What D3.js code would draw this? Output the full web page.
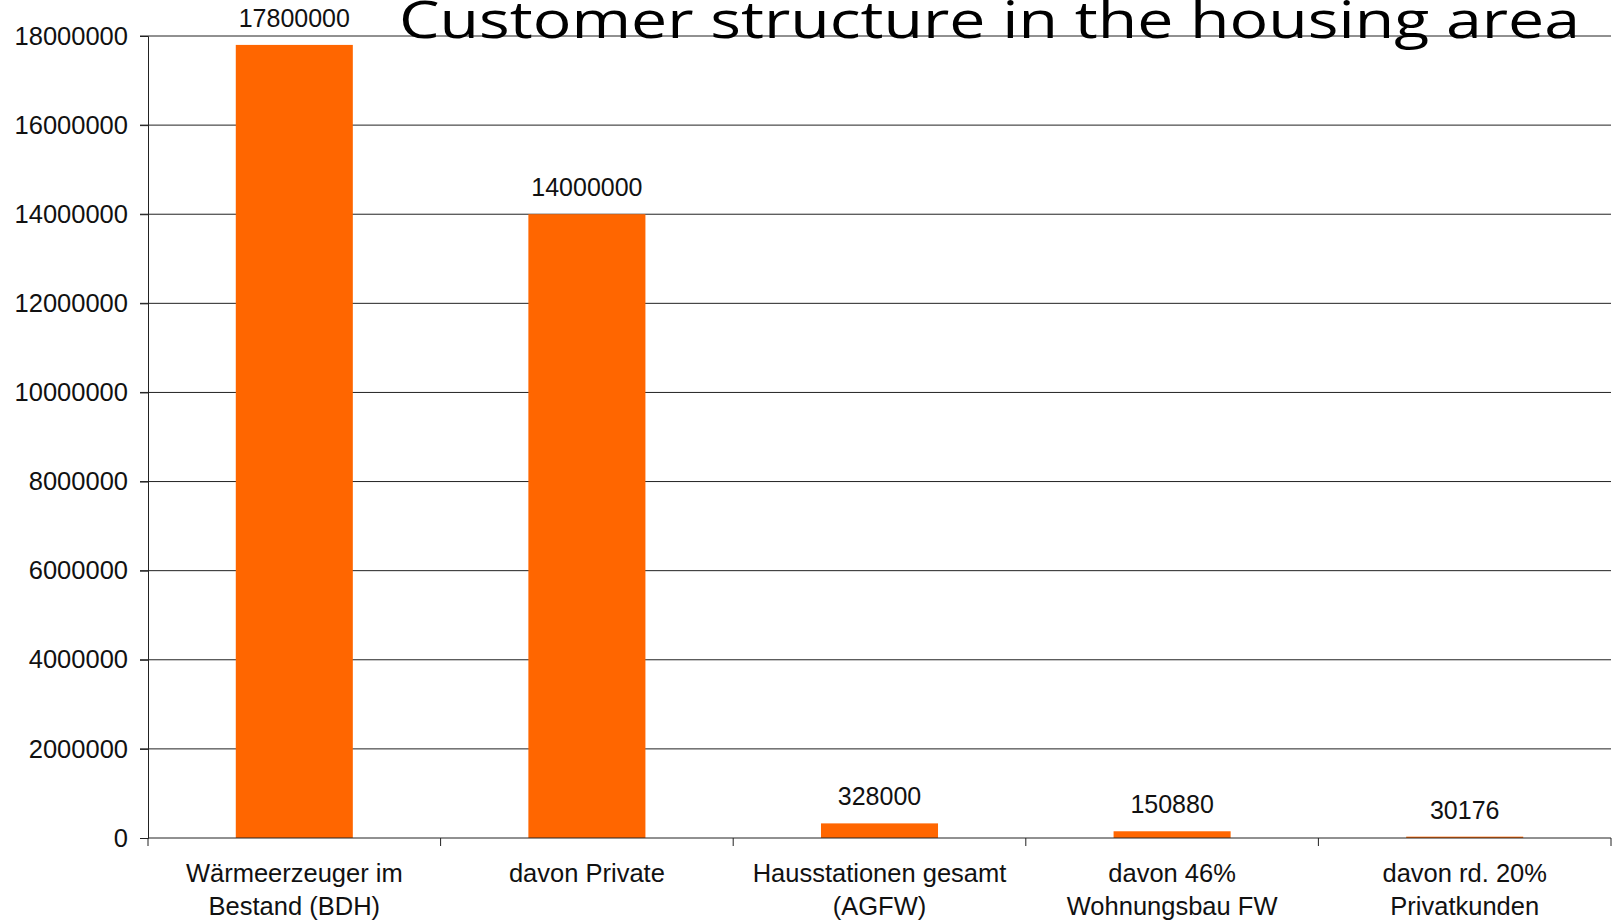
<!DOCTYPE html>
<html>
<head>
<meta charset="utf-8">
<style>
  body { margin: 0; background: #fff; }
  svg { display: block; }
  text { font-family: "Liberation Sans", Arial, sans-serif; fill: #111; }
</style>
</head>
<body>
<svg width="1617" height="922"></svg>
<script src="https://d3js.org/d3.v7.min.js"></script>
<script>

  var categories = [
    ["Wärmeerzeuger im", "Bestand (BDH)"],
    ["davon Private"],
    ["Hausstationen gesamt", "(AGFW)"],
    ["davon 46%", "Wohnungsbau FW"],
    ["davon rd. 20%", "Privatkunden"]
  ];
  var values = [17800000, 14000000, 328000, 150880, 30176];
  var yTicks = [0, 2000000, 4000000, 6000000, 8000000, 10000000, 12000000, 14000000, 16000000, 18000000];
  var title = "Customer structure in the housing area";

  var svg = d3.select("svg"),
    margin = {top: 36, right: 6, bottom: 84, left: 148},
    width = +svg.attr("width") - margin.left - margin.right,
    height = +svg.attr("height") - margin.top - margin.bottom,
    g = svg.append("g").attr("transform", "translate(" + margin.left + "," + margin.top + ")");

  var idx = d3.range(values.length);

  var x = d3.scaleBand()
    .domain(idx)
    .range([0, width])
    .paddingInner(0.6)
    .paddingOuter(0.3);

  var y = d3.scaleLinear().domain([0, 18000000]).range([height, 0]);

  // gridlines
  g.selectAll(".grid")
    .data(yTicks.filter(function (d) { return d > 0; }))
    .enter().append("line")
    .attr("x1", -8).attr("x2", width)
    .attr("y1", function (d) { return y(d); })
    .attr("y2", function (d) { return y(d); })
    .attr("stroke", "#222").attr("stroke-width", 1);

  // y axis
  var yAxis = g.append("g")
    .call(d3.axisLeft(y).tickValues(yTicks).tickSize(8).tickPadding(12).tickFormat(d3.format("d")));
  yAxis.select(".domain").attr("stroke", "#222");
  yAxis.selectAll(".tick line").attr("stroke", "#222");
  yAxis.selectAll("text").style("font-size", "25.5px").attr("fill", "#111")
    .style("font-family", "'Liberation Sans', Arial, sans-serif");

  // bars
  g.selectAll(".bar")
    .data(values)
    .enter().append("rect")
    .attr("x", function (d, i) { return x(i); })
    .attr("width", x.bandwidth())
    .attr("y", function (d) { return y(d); })
    .attr("height", function (d) { return height - y(d); })
    .attr("fill", "#ff6600");

  // value labels
  g.selectAll(".val")
    .data(values)
    .enter().append("text")
    .attr("x", function (d, i) { return x(i) + x.bandwidth() / 2; })
    .attr("y", function (d) { return y(d) - 18; })
    .attr("text-anchor", "middle")
    .style("font-size", "25px")
    .text(function (d) { return d; });

  // x axis with ticks at category boundaries
  var step = x.step();
  var bounds = d3.range(values.length + 1);
  g.append("line")
    .attr("x1", 0).attr("x2", width)
    .attr("y1", height).attr("y2", height)
    .attr("stroke", "#222");
  g.selectAll(".xtick")
    .data(bounds)
    .enter().append("line")
    .attr("x1", function (d) { return d * step; })
    .attr("x2", function (d) { return d * step; })
    .attr("y1", height).attr("y2", height + 8)
    .attr("stroke", "#222");

  // category labels
  var lab = g.selectAll(".cat")
    .data(categories)
    .enter().append("text")
    .attr("text-anchor", "middle")
    .attr("transform", function (d, i) { return "translate(" + (x(i) + x.bandwidth() / 2) + "," + (height + 44) + ")"; })
    .style("font-size", "25.5px");
  lab.selectAll("tspan")
    .data(function (d) { return d; })
    .enter().append("tspan")
    .attr("x", 0)
    .attr("dy", function (d, i) { return i === 0 ? 0 : 33; })
    .text(function (d) { return d; });

  // title
  svg.append("text")
    .attr("x", 399)
    .attr("y", 38)
    .attr("textLength", 1181)
    .attr("lengthAdjust", "spacingAndGlyphs")
    .style("font-family", "'Open Sans', 'Noto Sans', sans-serif")
    .style("font-size", "52px")
    .style("fill", "#000")
    .text(title);

</script>
</body>
</html>
